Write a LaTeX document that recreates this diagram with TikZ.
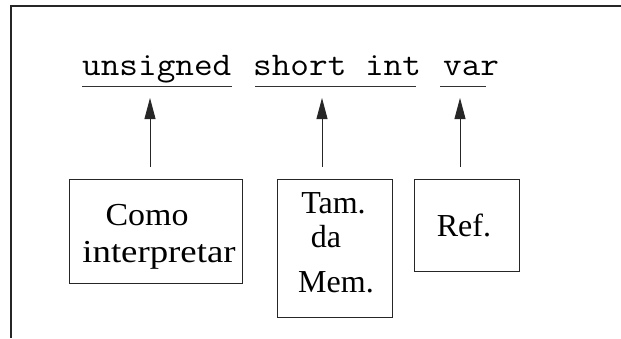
\documentclass[tikz,border=0pt]{standalone}
\usepackage{fontspec}
\setmainfont{Liberation Serif}
\usetikzlibrary{arrows.meta}
% monospaced words, widened a little to a 19pt character pitch
\newcommand{\widecode}[1]{\scalebox{1.097}[1]{\ttfamily\fontsize{33}{38}\selectfont #1}}
% serif words stretched sideways by a given factor
\newcommand{\widetext}[2]{\scalebox{#1}[1]{#2}}
\tikzset{
  frameline/.style={line width=1.5pt, draw=black!85},
  uline/.style={line width=1pt, draw=black!80},
  code/.style={inner sep=0pt, anchor=base west},
  label/.style={inner sep=0pt, anchor=base, font=\fontsize{32}{38}\selectfont},
  box/.style={draw=black!85, line width=1pt, inner sep=0pt, minimum width=#1},
  ptr/.style={line width=0.9pt, draw=black!85, -{Triangle[length=21pt,width=11pt]}}
}
\begin{document}
\begin{tikzpicture}[x=1pt, y=-1pt]
  \useasboundingbox (0,0) rectangle (621,338);
  % open frame: top and left edges only
  \draw[frameline] (621,6) -- (11,6) -- (11,338);

  % the declaration
  \node[code] (w1) at (82,75)  {\widecode{unsigned}};
  \node[code] (w2) at (253,75) {\widecode{short int}};
  \node[code] (w3) at (443,75) {\widecode{var}};
  \draw[uline] (82,86.5)  -- (232,86.5);
  \draw[uline] (255,86.5) -- (416,86.5);
  \draw[uline] (440,86.5) -- (486,86.5);

  % explanation boxes
  \node[box=173pt, minimum height=104pt] (b1) at (155.5,231) {};
  \node[box=115pt, minimum height=138pt] (b2) at (334.5,248) {};
  \node[box=105pt, minimum height=92pt]  (b3) at (466.5,225) {};

  \node[label] (l1a) at (147,225) {\widetext{1.06}{Como}};
  \node[label] (l1b) at (159,262) {\widetext{1.15}{interpretar}};
  \node[label] (l2a) at (333.5,213) {Tam.};
  \node[label] (l2b) at (326,247) {da};
  \node[label] (l2c) at (336,292) {Mem.};
  \node[label] (l3a) at (464,236) {Ref.};

  % pointers from the boxes up to the words
  \coordinate (t1) at (150,98);
  \coordinate (t2) at (322,98);
  \coordinate (t3) at (460,98);
  \draw[ptr] ([yshift=12pt]b1.north -| t1) -- (t1);
  \draw[ptr] ([yshift=12pt]b2.north -| t2) -- (t2);
  \draw[ptr] ([yshift=12pt]b3.north -| t3) -- (t3);
\end{tikzpicture}
\end{document}
